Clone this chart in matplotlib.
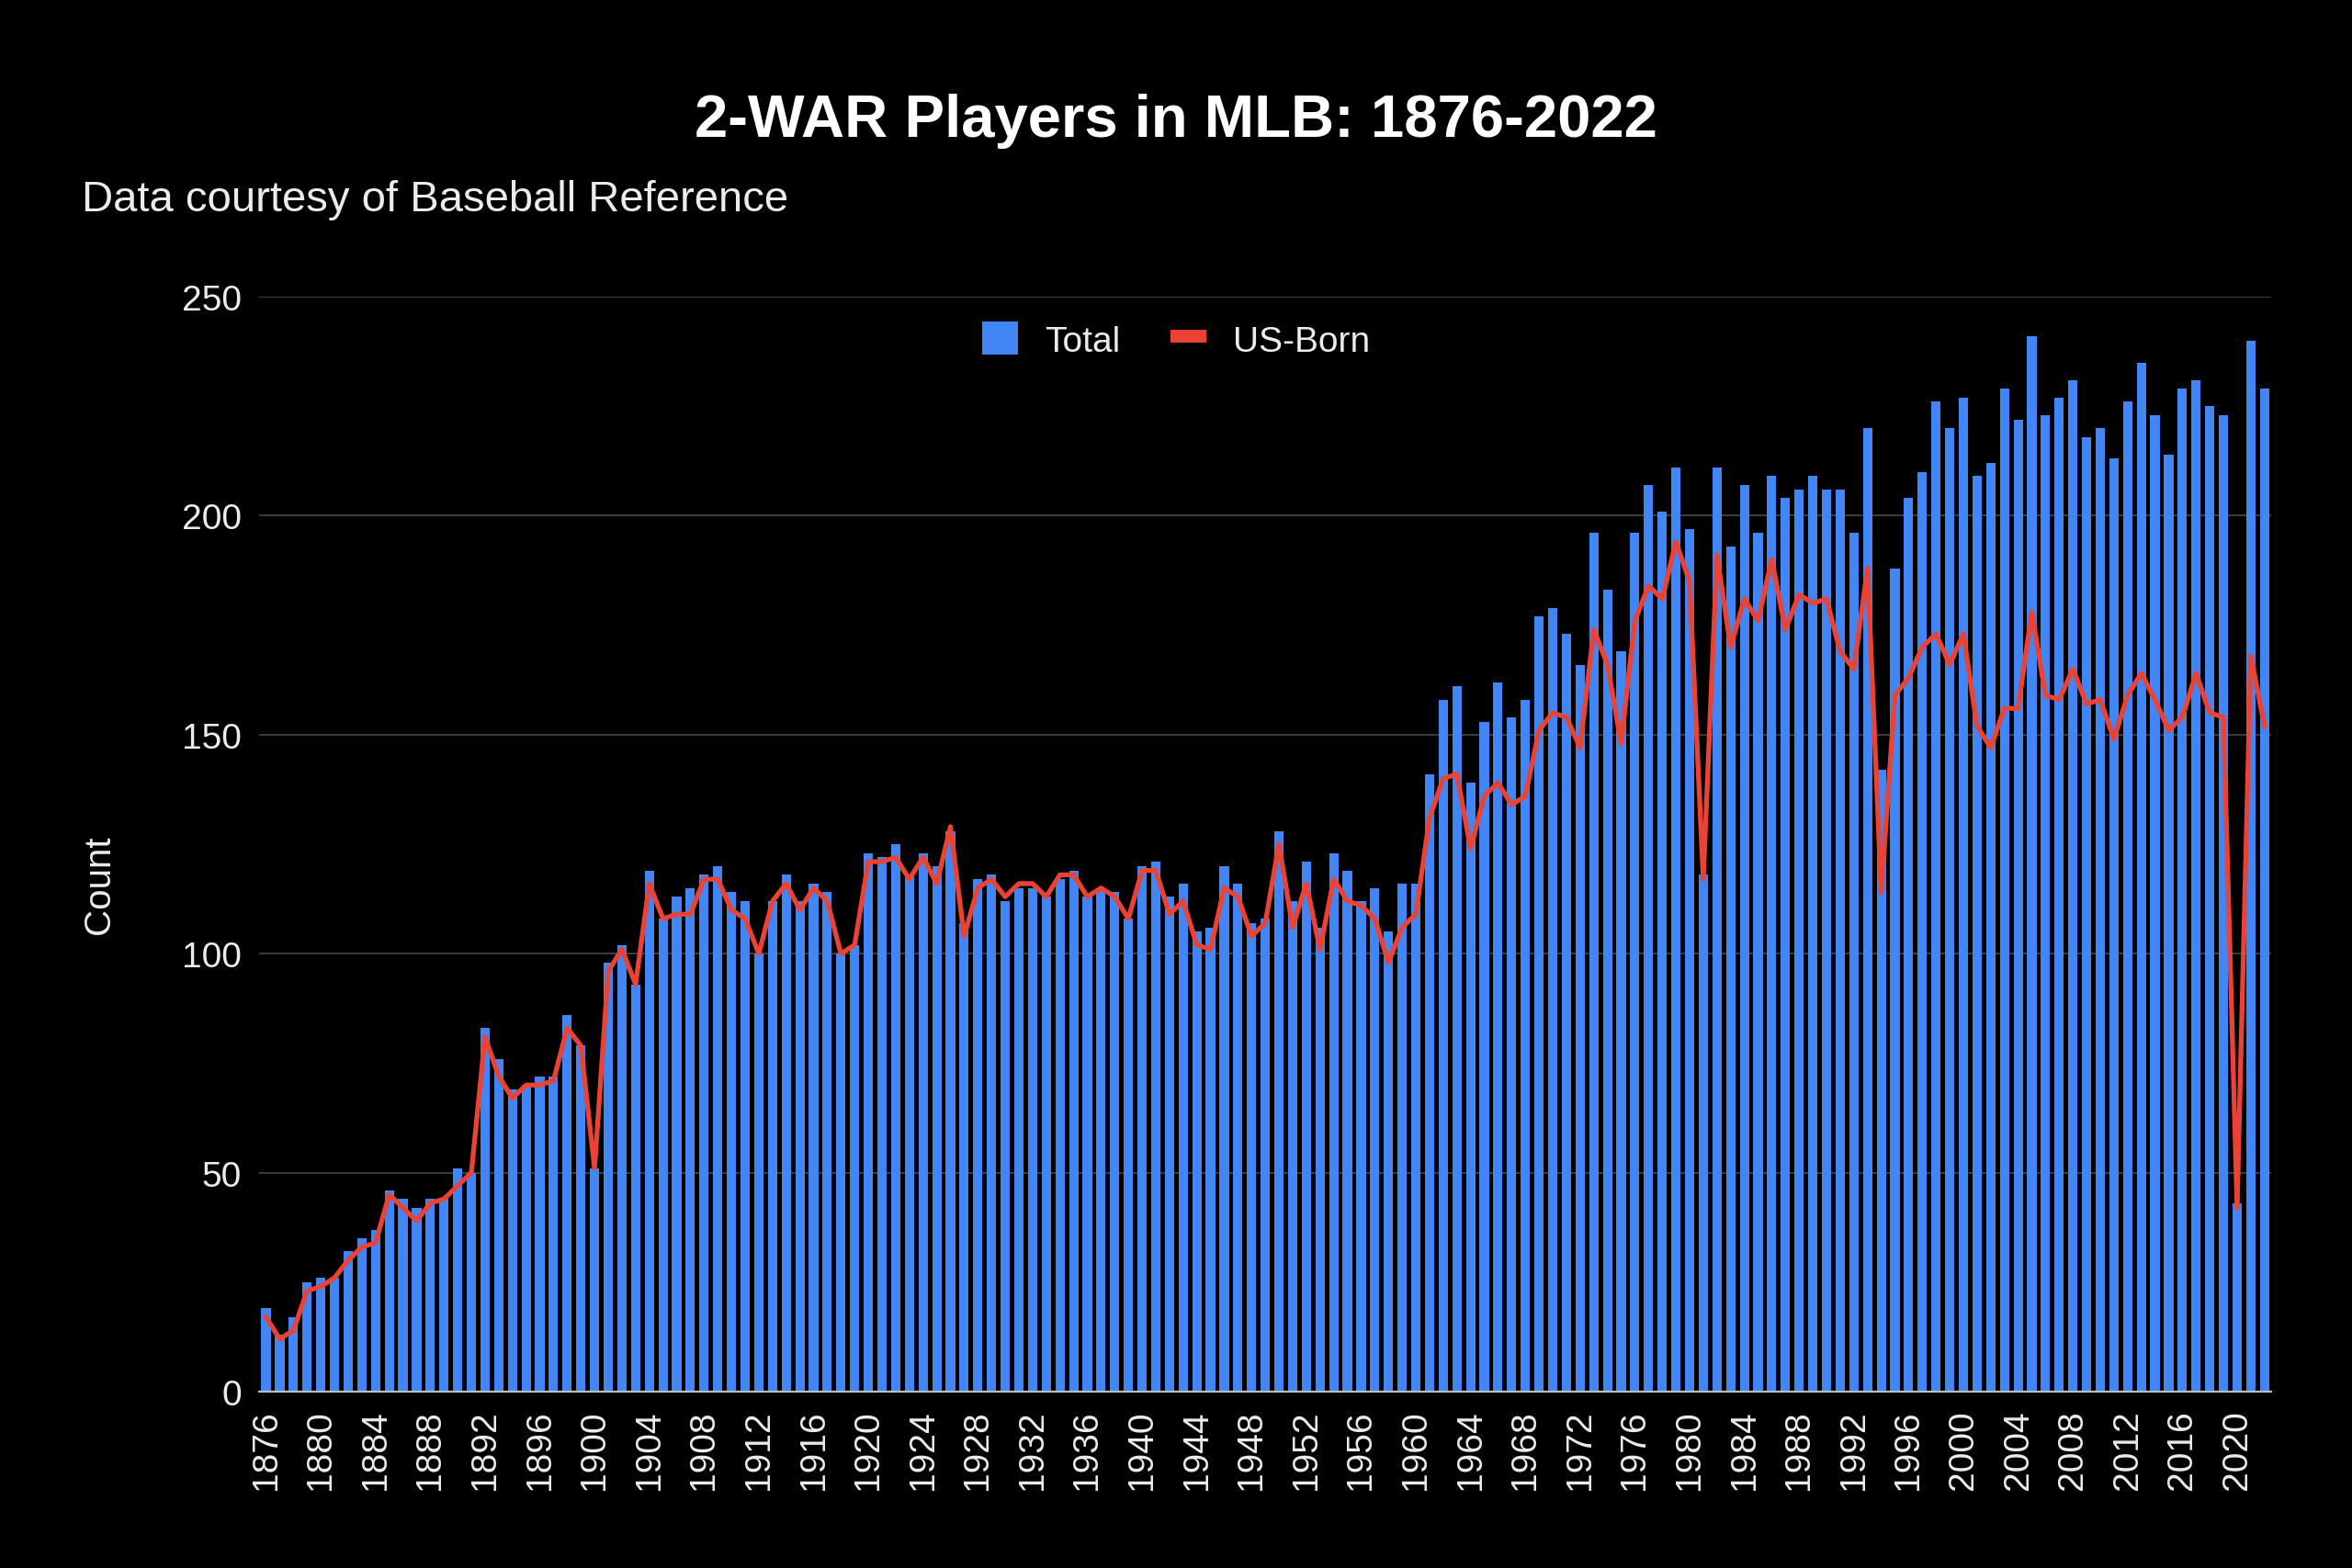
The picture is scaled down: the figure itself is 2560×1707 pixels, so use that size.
import numpy as np
import matplotlib
matplotlib.use('Agg')
import matplotlib.pyplot as plt
from matplotlib.patches import Patch
from matplotlib.lines import Line2D

plt.rcParams['font.family'] = ['Liberation Sans', 'DejaVu Sans']

# --- Data ---
years = list(range(1876, 2023))

total = [
    19, 13, 17, 25, 26, 26, 32, 35, 37, 46,        # 1876-1885
    44, 42, 44, 44, 51, 50, 83, 76, 69, 70,        # 1886-1895
    72, 72, 86, 79, 51, 98, 102, 93, 119, 108,     # 1896-1905
    113, 115, 118, 120, 114, 112, 100, 112, 118, 112,  # 1906-1915
    116, 114, 100, 102, 123, 122, 125, 118, 123, 120,  # 1916-1925
    128, 107, 117, 118, 112, 115, 115, 113, 117, 119,  # 1926-1935
    113, 115, 114, 108, 120, 121, 113, 116, 105, 106,  # 1936-1945
    120, 116, 107, 108, 128, 112, 121, 106, 123, 119,  # 1946-1955
    112, 115, 105, 116, 116, 141, 158, 161, 139, 153,  # 1956-1965
    162, 154, 158, 177, 179, 173, 166, 196, 183, 169,  # 1966-1975
    196, 207, 201, 211, 197, 118, 211, 193, 207, 196,  # 1976-1985
    209, 204, 206, 209, 206, 206, 196, 220, 142, 188,  # 1986-1995
    204, 210, 226, 220, 227, 209, 212, 229, 222, 241,  # 1996-2005
    223, 227, 231, 218, 220, 213, 226, 235, 223, 214,  # 2006-2015
    229, 231, 225, 223, 43, 240, 229,                  # 2016-2022
]

us_born = [
    17, 12, 14, 23, 24, 26, 30, 33, 34, 45,        # 1876-1885
    42, 39, 43, 44, 47, 50, 81, 72, 67, 70,        # 1886-1895
    70, 71, 83, 79, 51, 96, 101, 93, 116, 108,     # 1896-1905
    109, 109, 117, 117, 110, 108, 100, 112, 116, 110,  # 1906-1915
    115, 112, 100, 102, 121, 121, 122, 117, 122, 116,  # 1916-1925
    129, 104, 115, 117, 113, 116, 116, 113, 118, 118,  # 1926-1935
    113, 115, 113, 108, 119, 119, 109, 112, 102, 101,  # 1936-1945
    115, 113, 104, 107, 125, 106, 116, 101, 117, 112,  # 1946-1955
    111, 108, 98, 106, 109, 131, 140, 141, 124, 136,   # 1956-1965
    139, 134, 136, 151, 155, 154, 147, 174, 166, 148,  # 1966-1975
    176, 184, 181, 194, 185, 117, 191, 170, 181, 176,  # 1976-1985
    190, 174, 182, 180, 181, 169, 165, 188, 114, 159,  # 1986-1995
    163, 170, 173, 166, 173, 152, 147, 156, 156, 178,  # 1996-2005
    159, 158, 165, 157, 158, 149, 159, 164, 158, 151,  # 2006-2015
    154, 164, 155, 154, 42, 168, 152,                  # 2016-2022
]

tick_years = list(range(1876, 2021, 4))
y_ticks = [0, 50, 100, 150, 200, 250]

BLUE = '#4285F4'
RED = '#EA4335'
TEXT = '#ececec'

# --- Figure ---
fig = plt.figure(figsize=(25.6, 17.08), dpi=100, facecolor='black')
ax = fig.add_axes([0.1102, 0.1124, 0.9657 - 0.1102, 0.8103 - 0.1124])
ax.set_facecolor('black')

ax.bar(years, total, width=0.68, color=BLUE, zorder=2)
ax.plot(years, us_born, color=RED, linewidth=3.8, solid_joinstyle='round', zorder=3)

ax.set_xlim(1875.5, 2022.5)
ax.set_ylim(0, 250)

ax.set_yticks(y_ticks)
ax.set_xticks(tick_years)
ax.set_xticklabels([str(y) for y in tick_years], rotation=90, va='top', ha='center')
ax.tick_params(axis='both', length=0, labelsize=28, labelcolor=TEXT)
ax.tick_params(axis='y', pad=14)
ax.tick_params(axis='x', pad=14)

ax.yaxis.grid(True, color='#484848', linewidth=1.2)
ax.set_axisbelow(True)
for side in ['top', 'right', 'left']:
    ax.spines[side].set_visible(False)
ax.spines['bottom'].set_color('#bdbdbd')
ax.spines['bottom'].set_linewidth(1.6)
ax.spines['bottom'].set_zorder(4)

# Titles and labels
fig.text(0.5, 1 - 132 / 1708, '2-WAR Players in MLB: 1876-2022', color='white',
         fontsize=47, fontweight='bold', ha='center', va='center')
fig.text(89 / 2560, 1 - 218 / 1708, 'Data courtesy of Baseball Reference', color=TEXT,
         fontsize=34, ha='left', va='center')
fig.text(108 / 2560, 1 - 963 / 1708, 'Count', color=TEXT, fontsize=29,
         rotation=90, ha='center', va='center')

# Legend
handles = [Patch(facecolor=BLUE, edgecolor='none'),
           Line2D([0], [0], color=RED, linewidth=10, solid_capstyle='butt')]
fig.legend(handles, ['Total', 'US-Born'], loc='center', bbox_to_anchor=(0.5, 1 - 371 / 1708),
           ncol=2, frameon=False, fontsize=28, labelcolor=TEXT,
           handlelength=1.0, handleheight=1.05, handletextpad=0.75, columnspacing=1.4)

plt.savefig('out.png', dpi=100, facecolor='black')
